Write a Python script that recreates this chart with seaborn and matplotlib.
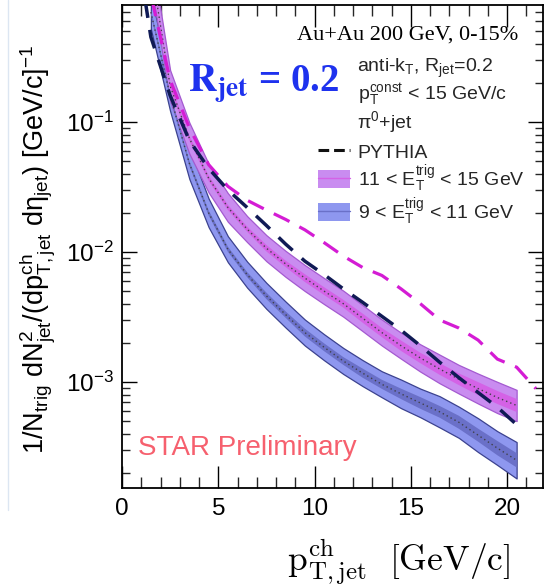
import numpy as np
import pandas as pd
import matplotlib
matplotlib.use("Agg")
import matplotlib.pyplot as plt
import seaborn as sns
from matplotlib.lines import Line2D
from matplotlib.patches import Patch
from matplotlib.ticker import MultipleLocator, LogLocator, NullFormatter, FuncFormatter

# ---- data: per-trigger charged-jet yields, R = 0.2, Au+Au 0-15% ----
pt_centers = [1.5, 2.5, 3.5, 4.5, 5.5, 6.5, 7.5, 8.5, 9.5, 10.5,
              11.5, 12.5, 13.5, 14.5, 15.5, 16.5, 17.5, 18.5, 19.5, 20.5]

# 11 < E_T^trig < 15 GeV
yield_hi = [1.6, 0.19, 0.075, 0.037, 0.022, 0.015, 0.0107, 0.0081, 0.0063, 0.0050,
            0.0040, 0.0031, 0.0024, 0.0019, 0.00153, 0.00126, 0.00105, 0.00089, 0.00076, 0.00066]
sys_hi_dex = [0.13, 0.12, 0.12, 0.11, 0.11, 0.10, 0.10, 0.10, 0.10, 0.10,
              0.10, 0.10, 0.10, 0.10, 0.105, 0.11, 0.11, 0.115, 0.12, 0.12]
stat_hi_dex = [0.02, 0.02, 0.02, 0.02, 0.02, 0.02, 0.025, 0.025, 0.03, 0.03,
               0.03, 0.035, 0.035, 0.04, 0.04, 0.045, 0.045, 0.05, 0.05, 0.05]

# 9 < E_T^trig < 11 GeV
yield_lo = [0.7, 0.16, 0.048, 0.020, 0.0105, 0.0067, 0.0046, 0.0033, 0.0024, 0.00185,
            0.00145, 0.00117, 0.00096, 0.00081, 0.00069, 0.00059, 0.00049, 0.00039, 0.00031, 0.00025]
sys_lo_dex = [0.13, 0.12, 0.12, 0.11, 0.10, 0.10, 0.10, 0.10, 0.10, 0.10,
              0.10, 0.10, 0.10, 0.11, 0.11, 0.12, 0.12, 0.13, 0.13, 0.14]
stat_lo_dex = [0.02, 0.02, 0.02, 0.02, 0.02, 0.02, 0.025, 0.025, 0.03, 0.03,
               0.03, 0.035, 0.035, 0.04, 0.045, 0.045, 0.05, 0.05, 0.055, 0.055]

# PYTHIA references
pythia_hi_pt = [1.5, 2.5, 3.5, 4.5, 5.5, 6.5, 7.5, 8.5, 9.5, 10.5, 11.5,
                12.5, 13.5, 14.5, 15.5, 16.5, 17.5, 18.5, 19.5, 20.5, 21.5]
pythia_hi = [0.95, 0.21, 0.09, 0.047, 0.032, 0.025, 0.021, 0.0178, 0.0148, 0.0118, 0.0093,
             0.0076, 0.0066, 0.0052, 0.0040, 0.0030, 0.0026, 0.0021, 0.0015, 0.0013, 0.00089]
pythia_lo_pt = [0.5, 1.5, 2.5, 3.5, 4.5, 5.5, 6.5, 7.5, 8.5, 9.5, 10.5,
                11.5, 12.5, 13.5, 14.5, 15.5, 16.5, 17.5, 18.5, 19.5, 20.5]
pythia_lo = [4.0, 0.45, 0.16, 0.072, 0.044, 0.030, 0.022, 0.016, 0.0115, 0.0085, 0.0067,
             0.0052, 0.0041, 0.0032, 0.0025, 0.0019, 0.00142, 0.00108, 0.00083, 0.00064, 0.00047]

# ---- colours ----
HI_SYS, HI_STAT, HI_EDGE = "#c98cf0", "#d462e6", "#a45ad0"
LO_SYS, LO_STAT, LO_EDGE = "#8e97ef", "#6a70c8", "#3c428f"
PY_HI, PY_LO = "#d41cd4", "#101a55"
CENTER = "#40404a"

sns.set_theme(style="ticks")
plt.rcParams["font.family"] = ["Liberation Sans", "DejaVu Sans"]
plt.rcParams["mathtext.fontset"] = "custom"
plt.rcParams["mathtext.rm"] = "Liberation Sans"
plt.rcParams["mathtext.it"] = "Liberation Sans:italic"
plt.rcParams["mathtext.bf"] = "Liberation Sans:bold"

W, H = 545, 586
fig = plt.figure(figsize=(W / 100, H / 100), dpi=100)
fig.patch.set_facecolor("white")


def fx(px):
    return px / W


def fy(py):
    return 1 - py / H


ax = fig.add_axes([fx(122), fy(488), (543 - 122) / W, (488 - 5) / H])
ax.set_facecolor("white")

df = pd.DataFrame({
    "pt": pt_centers,
    "hi": yield_hi, "hi_sys": sys_hi_dex, "hi_stat": stat_hi_dex,
    "lo": yield_lo, "lo_sys": sys_lo_dex, "lo_stat": stat_lo_dex,
})


def draw_band(col, sys_col, stat_col, c_sys, c_stat, c_edge):
    y = df[col].to_numpy()
    s = df[sys_col].to_numpy()
    t = df[stat_col].to_numpy()
    ax.fill_between(df["pt"], y * 10 ** (-s), y * 10 ** s, facecolor=c_sys,
                    edgecolor=c_edge, linewidth=0.9, zorder=2)
    ax.fill_between(df["pt"], y * 10 ** (-t), y * 10 ** t, facecolor=c_stat,
                    edgecolor="none", linewidth=0, zorder=3)
    sns.lineplot(data=df, x="pt", y=col, ax=ax, color=CENTER, linewidth=1.0,
                 linestyle=(0, (1, 2.2)), zorder=4, legend=False)


draw_band("lo", "lo_sys", "lo_stat", LO_SYS, LO_STAT, LO_EDGE)
draw_band("hi", "hi_sys", "hi_stat", HI_SYS, HI_STAT, HI_EDGE)

sns.lineplot(x=pythia_hi_pt, y=pythia_hi, ax=ax, color=PY_HI, linewidth=2.3,
             linestyle=(0, (5.5, 3.5)), zorder=5, legend=False)
sns.lineplot(x=pythia_lo_pt, y=pythia_lo, ax=ax, color=PY_LO, linewidth=2.5,
             linestyle=(0, (5.5, 3.5)), zorder=6, legend=False)

ax.set_yscale("log")
ax.set_xlim(0, 21.87)
ax.set_ylim(1.53e-4, 0.794)
ax.set_xlabel("")
ax.set_ylabel("")

ax.xaxis.set_major_locator(MultipleLocator(5))
ax.xaxis.set_minor_locator(MultipleLocator(1))
ax.yaxis.set_major_locator(LogLocator(base=10, numticks=12))
ax.yaxis.set_minor_locator(LogLocator(base=10, subs=np.arange(2, 10), numticks=12))
ax.yaxis.set_minor_formatter(NullFormatter())
ax.yaxis.set_major_formatter(FuncFormatter(lambda v, p: r"$10^{%d}$" % round(np.log10(v))))

ax.tick_params(axis="x", which="major", direction="in", length=16, width=1.0,
               top=True, bottom=True, labelsize=17.5, pad=7, colors="black")
ax.tick_params(axis="x", which="minor", direction="in", length=8, width=1.0,
               top=True, bottom=True)
ax.tick_params(axis="y", which="major", direction="in", length=11, width=1.0,
               left=True, right=True, labelsize=17.5, pad=6, colors="black")
ax.tick_params(axis="y", which="minor", direction="in", length=6, width=1.0,
               left=True, right=True)
for sp in ax.spines.values():
    sp.set_visible(True)
    sp.set_linewidth(1.3)
    sp.set_color("black")

# axis titles
fig.text(fx(510), fy(571), r"$\mathrm{p^{ch}_{T,jet}\ \ [GeV/c]}$", ha="right",
         va="baseline", fontsize=25.6, math_fontfamily="cm", color="black")
fig.text(fx(37), fy(249),
         r"1/N$_{\mathrm{trig}}$ dN$^{2}_{\mathrm{jet}}$/(dp$^{\mathrm{ch}}_{\mathrm{T,jet}}$ "
         r"d$\mathrm{\eta}_{\mathrm{jet}}$) [GeV/c]$^{-1}$",
         rotation=90, ha="center", va="center", fontsize=19.5, color="black")

# annotations
fig.text(fx(518), fy(40), "Au+Au 200 GeV, 0-15%", ha="right", va="baseline",
         fontsize=16, family="Liberation Serif", color="black")
fig.text(fx(188), fy(92), r"$\mathbf{R_{jet}}$ = 0.2", ha="left", va="baseline",
         fontsize=28, family="Liberation Serif", weight="bold",
         math_fontfamily="stix", color="#1e32ee")
fig.text(fx(357), fy(72), r"anti-k$_{\mathrm{T}}$, R$_{\mathrm{jet}}$=0.2",
         ha="left", va="baseline", fontsize=14)
fig.text(fx(358), fy(100), r"p$^{\mathrm{const}}_{\mathrm{T}}$ < 15 GeV/c",
         ha="left", va="baseline", fontsize=14)
fig.text(fx(357), fy(128), r"$\mathrm{\pi}^{0}$+jet", ha="left", va="baseline",
         fontsize=14)
fig.text(fx(138), fy(455), "STAR Preliminary", ha="left", va="baseline",
         fontsize=20, color="#f6606e")

handles = [
    Line2D([], [], color="#111111", linewidth=2.2, linestyle=(0, (3.5, 1.6))),
    (Patch(facecolor=HI_SYS, edgecolor="none"), Line2D([], [], color=HI_STAT, linewidth=1.0)),
    (Patch(facecolor=LO_SYS, edgecolor="none"), Line2D([], [], color=LO_STAT, linewidth=1.0)),
]
labels = ["PYTHIA",
          r"11 < E$^{\mathrm{trig}}_{\mathrm{T}}$ < 15 GeV",
          r"9 < E$^{\mathrm{trig}}_{\mathrm{T}}$ < 11 GeV"]
ax.legend(handles, labels, loc="upper left", bbox_to_anchor=(fx(318), fy(142)),
          bbox_transform=fig.transFigure, frameon=False, fontsize=14,
          handlelength=1.65, handleheight=1.05, handletextpad=0.4,
          labelspacing=0.1, borderpad=0, borderaxespad=0)

# faint page rule on the far left
fig.add_artist(Line2D([fx(8), fx(8)], [fy(510), 1.0], color="#dce6f2",
                      linewidth=1.0, transform=fig.transFigure))

fig.savefig("out.png", dpi=100, facecolor="white")
